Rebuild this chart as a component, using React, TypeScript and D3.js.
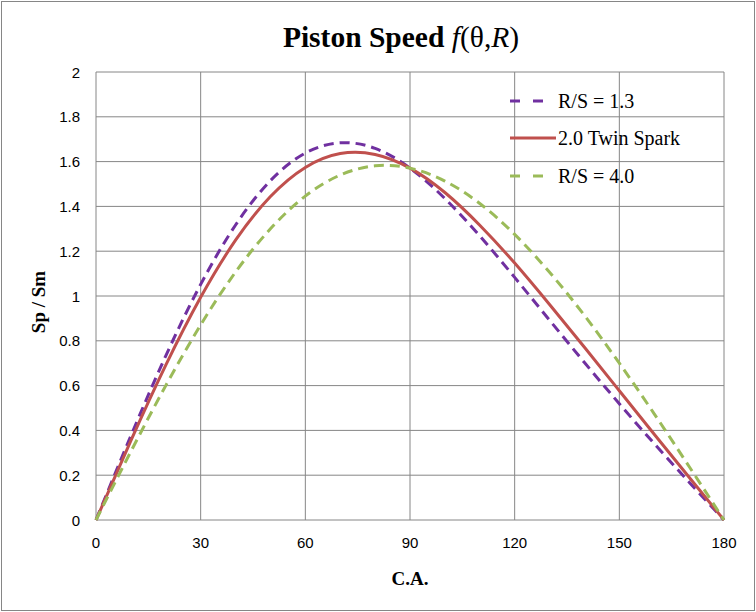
import React from "react";
import * as d3 from "d3";

const angles = [0, 10, 20, 30, 40, 50, 60, 70, 80, 90, 100, 110, 120, 130, 140, 150, 160, 170, 180];
const rs13 = [0, 0.376, 0.733, 1.052, 1.317, 1.515, 1.638, 1.684, 1.659, 1.571, 1.435, 1.268, 1.083, 0.892, 0.703, 0.519, 0.341, 0.169, 0];
const twinSpark = [0, 0.354, 0.691, 0.994, 1.249, 1.444, 1.574, 1.636, 1.632, 1.571, 1.462, 1.316, 1.147, 0.962, 0.771, 0.577, 0.383, 0.191, 0];
const rs40 = [0, 0.306, 0.600, 0.871, 1.107, 1.300, 1.446, 1.540, 1.581, 1.571, 1.513, 1.413, 1.275, 1.106, 0.913, 0.700, 0.474, 0.239, 0];
const xTicks = [0, 30, 60, 90, 120, 150, 180];
const yTicks = [0, 0.2, 0.4, 0.6, 0.8, 1, 1.2, 1.4, 1.6, 1.8, 2];
const seriesNames = ["R/S = 1.3", "2.0 Twin Spark", "R/S = 4.0"];

const W = 756, H = 612;
const L = 96, R = 724, T = 72, B = 520;

export default function App() {
  const x = d3.scaleLinear().domain([0, 180]).range([L, R]);
  const y = d3.scaleLinear().domain([0, 2]).range([B, T]);
  const series = [
    { name: seriesNames[0], values: rs13, color: "#7030A0", dash: "10,6" },
    { name: seriesNames[1], values: twinSpark, color: "#C0504D", dash: "" },
    { name: seriesNames[2], values: rs40, color: "#9BBB59", dash: "10,6" },
  ];
  const line = d3
    .line<number>()
    .x((_, i) => x(angles[i]))
    .y((d) => y(d))
    .curve(d3.curveNatural);
  const legendY = [101, 138, 176];
  return (
    <svg width={W} height={H} style={{ position: "absolute", left: 0, top: 0 }}>
      <rect x={0} y={0} width={W} height={H} fill="#fff" />
      <rect x={1.5} y={1.5} width={W - 3} height={H - 3} fill="none" stroke="#868686" strokeWidth={1} />
      <text x={401} y={47} textAnchor="middle" fontFamily="Liberation Serif" fontSize={29.5} fill="#000">
        <tspan fontWeight="bold">Piston Speed </tspan>
        <tspan fontStyle="italic">f</tspan>(θ,<tspan fontStyle="italic">R</tspan>)
      </text>
      {yTicks.map((t) => (
        <line key={"gy" + t} x1={L} x2={R} y1={y(t)} y2={y(t)} stroke="#868686" strokeWidth={1} />
      ))}
      {xTicks.map((t) => (
        <line key={"gx" + t} x1={x(t)} x2={x(t)} y1={T} y2={B} stroke="#868686" strokeWidth={1} />
      ))}
      {yTicks.map((t) => (
        <text key={"ty" + t} x={80} y={y(t) + 5.5} textAnchor="end" fontFamily="Liberation Sans" fontSize={15} fill="#000">
          {String(t)}
        </text>
      ))}
      {xTicks.map((t) => (
        <text key={"tx" + t} x={x(t)} y={548} textAnchor="middle" fontFamily="Liberation Sans" fontSize={15} fill="#000">
          {String(t)}
        </text>
      ))}
      <text x={410} y={585} textAnchor="middle" fontFamily="Liberation Serif" fontWeight="bold" fontSize={19} fill="#000">
        C.A.
      </text>
      <text
        transform={`translate(45,302) rotate(-90)`}
        textAnchor="middle"
        fontFamily="Liberation Serif"
        fontWeight="bold"
        fontSize={19}
        fill="#000"
      >
        Sp / Sm
      </text>
      {series.map((s) => (
        <path
          key={s.name}
          d={line(s.values) || ""}
          fill="none"
          stroke={s.color}
          strokeWidth={3}
          strokeDasharray={s.dash || undefined}
        />
      ))}
      {series.map((s, i) => (
        <g key={"lg" + s.name}>
          <line
            x1={510}
            x2={s.dash ? 543 : 556}
            y1={legendY[i]}
            y2={legendY[i]}
            stroke={s.color}
            strokeWidth={3}
            strokeDasharray={s.dash ? "10,13" : undefined}
          />
          <text x={558} y={legendY[i] + 7} fontFamily="Liberation Serif" fontSize={20} fill="#000">
            {s.name}
          </text>
        </g>
      ))}
    </svg>
  );
}
